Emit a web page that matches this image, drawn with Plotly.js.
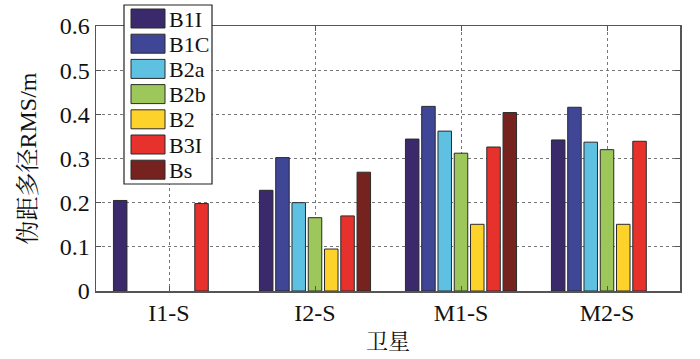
<!DOCTYPE html>
<html><head><meta charset="utf-8">
<script src="https://cdn.plot.ly/plotly-3.0.1.min.js"></script>
<style>html,body{margin:0;padding:0;background:#fff}#c{width:700px;height:359px}</style>
</head><body><div id="c"></div>
<script>
const categories = ['I1-S','I2-S','M1-S','M2-S'];
const signals = ['B1I','B1C','B2a','B2b','B2','B3I','Bs'];
const B1I = [0.205, 0.228, 0.344, 0.342];
const B1C = [null, 0.302, 0.418, 0.416];
const B2a = [null, 0.200, 0.362, 0.337];
const B2b = [null, 0.166, 0.312, 0.320];
const B2  = [null, 0.095, 0.151, 0.151];
const B3I = [0.198, 0.170, 0.326, 0.339];
const Bs  = [null, 0.269, 0.404, null];
const colors = ['#3a2a6c','#3f4696','#5ec1e1','#9dc75b','#fdd32b','#e6312d','#76231f'];
const series = [B1I,B1C,B2a,B2b,B2,B3I,Bs];
const xpos = [1,2,3,4];
const font = 'Liberation Serif, Times New Roman, serif';
const cjkFont = 'Liberation Serif, Noto Serif CJK SC, Noto Sans CJK SC, serif';

const traces = series.map((vals,i)=>({
  type:'bar', x:xpos, y:vals, name:signals[i],
  marker:{color:colors[i], line:{color:'#2a2a2a', width:1}},
  showlegend:false
}));

// manual legend (paper coords)
const shapes = [];
const annotations = [];
const W=700, H=359, ml=96, mr=20, mt=26, mb=68;
const pw=W-ml-mr, ph=H-mt-mb;
const px = x => (x-ml)/pw;
const py = y => 1-(y-mt)/ph;
shapes.push({type:'rect', xref:'paper', yref:'paper', x0:px(124), x1:px(212), y0:py(184), y1:py(5),
  fillcolor:'#ffffff', line:{color:'#222', width:1.2}, layer:'above'});
signals.forEach((s,i)=>{
  const top = 9 + i*25.2;
  shapes.push({type:'rect', xref:'paper', yref:'paper', x0:px(131), x1:px(165), y0:py(top+19), y1:py(top),
    fillcolor:colors[i], line:{color:'#2a2a2a', width:1}, layer:'above'});
  annotations.push({xref:'paper', yref:'paper', x:px(167), y:py(top+10), xanchor:'left', yanchor:'middle',
    text:s, showarrow:false, font:{family:font, size:22, color:'#111'}});
});

const layout = {
  width:W, height:H,
  margin:{l:ml, r:mr, t:mt, b:mb},
  paper_bgcolor:'#fff', plot_bgcolor:'#fff',
  barmode:'group', bargap:0.22, bargroupgap:0.17,
  font:{family:font, size:24, color:'#111'},
  xaxis:{range:[0.5,4.5], tickvals:xpos, ticktext:categories, showgrid:true,
    gridcolor:'#777', griddash:'dot', gridwidth:1,
    showline:true, mirror:'ticks', linecolor:'#555', linewidth:1.5,
    ticks:'inside', ticklen:5, tickcolor:'#555', zeroline:false,
    tickfont:{family:font, size:24, color:'#111'},
    title:{text:'卫星', font:{family:cjkFont, size:22, color:'#111'}, standoff:8}},
  yaxis:{range:[0,0.6], tickvals:[0,0.1,0.2,0.3,0.4,0.5,0.6], ticktext:['0','0.1','0.2','0.3','0.4','0.5','0.6'],
    showgrid:true, gridcolor:'#777', griddash:'dot', gridwidth:1,
    showline:true, mirror:'ticks', linecolor:'#555', linewidth:1.5,
    ticks:'inside', ticklen:5, tickcolor:'#555', zeroline:false,
    tickfont:{family:font, size:24, color:'#111'},
    title:{text:'伪距多径RMS/m', font:{family:cjkFont, size:24, color:'#111'}, standoff:16}},
  shapes:shapes, annotations:annotations, showlegend:false
};
Plotly.newPlot('c', traces, layout, {displayModeBar:false, staticPlot:true});
</script></body></html>
